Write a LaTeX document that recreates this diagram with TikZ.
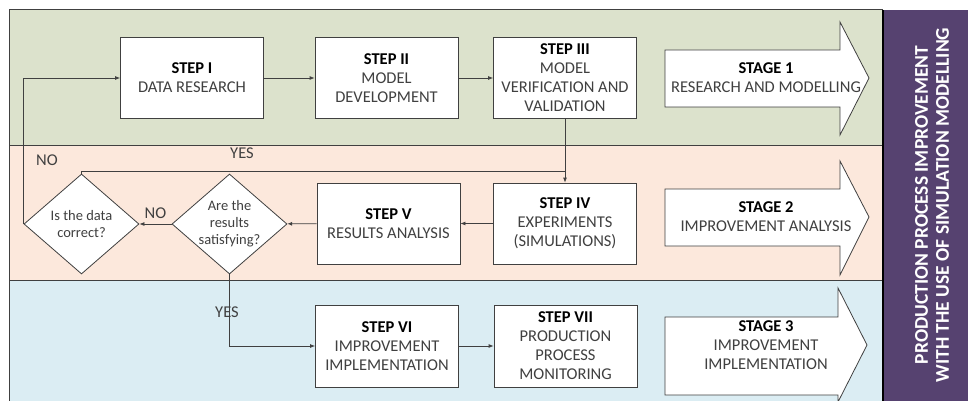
\documentclass[tikz,border=0pt]{standalone}
\usepackage{fontspec}
\setmainfont{Carlito}
\usetikzlibrary{arrows.meta,shapes.geometric}

\definecolor{researchgreen}{RGB}{220,226,204}
\definecolor{analysisrose}{RGB}{252,232,220}
\definecolor{implblue}{RGB}{219,237,243}
\definecolor{titlepurple}{RGB}{86,66,112}
\definecolor{inkgray}{RGB}{64,64,64}

\tikzset{
    stepbox/.style={draw=inkgray, fill=white, line width=0.8pt, minimum width=143pt, minimum height=81pt, inner sep=0pt, align=center, text=inkgray, font=\fontsize{16.5}{19}\selectfont},
    decision/.style={draw=inkgray, fill=white, diamond, line width=0.8pt, minimum width=115pt, minimum height=100pt, inner sep=0pt},
    qtext/.style={align=center, text=inkgray, font=\fontsize{14.5}{17}\selectfont},
    flow/.style={draw=inkgray, line width=0.8pt, -{Latex[length=5pt,width=4pt]}},
    answer/.style={text=inkgray, font=\fontsize{16.5}{19}\selectfont},
    stagearrow/.style={draw=inkgray, fill=white, line width=0.8pt},
    stagetext/.style={align=center, text=inkgray, font=\fontsize{16.5}{19}\selectfont}
}

\newcommand{\steptitle}[1]{{\bfseries\color{black}#1}}

\begin{document}
\begin{tikzpicture}[x=1pt, y=-1pt]
    \useasboundingbox (0,0) rectangle (968,401);

    % bands
    \fill[researchgreen] (9,10) rectangle (883,145);
    \fill[analysisrose] (9,145) rectangle (883,280);
    \fill[implblue] (9,280) rectangle (883,401);
    \draw[inkgray, line width=1pt] (9,401) -- (9,10) -- (883,10);
    \draw[inkgray, line width=1pt] (9,145) -- (883,145);
    \draw[inkgray, line width=1pt] (9,280) -- (883,280);
    \fill[titlepurple] (883,10) rectangle (968,401);
    \draw[black, line width=1.2pt] (883,10) -- (883,401);
    \node[rotate=90, align=center, text=white, font=\bfseries\fontsize{19.5}{21}\selectfont] (title) at (932,205) {PRODUCTION PROCESS IMPROVEMENT\\WITH THE USE OF SIMULATION MODELLING};

    % steps
    \node[stepbox] (step1) at (192,78) {\steptitle{STEP I}\\DATA RESEARCH};
    \node[stepbox] (step2) at (386.5,78) {\steptitle{STEP II}\\MODEL\\DEVELOPMENT};
    \node[stepbox] (step3) at (565,78) {\steptitle{STEP III}\\MODEL\\VERIFICATION AND\\VALIDATION};
    \node[stepbox] (step4) at (565,223.5) {\steptitle{STEP IV}\\EXPERIMENTS\\(SIMULATIONS)};
    \node[stepbox] (step5) at (388.5,223.5) {\steptitle{STEP V}\\RESULTS ANALYSIS};
    \node[stepbox, minimum height=82pt] (step6) at (387,346) {\steptitle{STEP VI}\\IMPROVEMENT\\IMPLEMENTATION};
    \node[stepbox, minimum height=82pt] (step7) at (565.5,346) {\steptitle{STEP VII}\\PRODUCTION\\PROCESS\\MONITORING};

    % decisions
    \node[decision] (ddata) at (81.5,224) {};
    \node[qtext] (ddatatext) at (ddata) {Is the data\\correct?};
    \node[decision] (dsat) at (229.5,224) {};
    \node[qtext] (dsattext) at (dsat) {Are the\\results\\satisfying?};

    % stages
    \draw[stagearrow] (665,50) -- (840,50) -- (840,22) -- (869,78) -- (840,135) -- (840,107) -- (665,107) -- cycle;
    \node[stagetext] (stage1) at (766,78) {\steptitle{STAGE 1}\\RESEARCH AND MODELLING};
    \draw[stagearrow] (665,189) -- (840,189) -- (840,161) -- (869,217) -- (840,275) -- (840,246) -- (665,246) -- cycle;
    \node[stagetext] (stage2) at (766,217) {\steptitle{STAGE 2}\\IMPROVEMENT ANALYSIS};
    \draw[stagearrow] (665,317) -- (838,317) -- (838,288) -- (867,345) -- (838,402) -- (838,395) -- (665,395) -- cycle;
    \node[stagetext] (stage3) at (766,345) {\steptitle{STAGE 3}\\IMPROVEMENT\\IMPLEMENTATION};

    % flow
    \draw[flow] (step1) -- (step2);
    \draw[flow] (step2) -- (step3);
    \draw[flow] (step3) -- (step4);
    \draw[flow] (step4) -- (step5);
    \draw[flow] (step5) -- (dsat);
    \draw[flow] (dsat) -- node[answer, above=2pt] (nomid) {NO} (ddata);
    \draw[flow] (ddata.west) -- (ddata.west |- step1.west) -- (step1.west);
    \node[answer] (noleft) at (47,160) {NO};
    \coordinate (yesjoin) at (565,171);
    \draw[draw=inkgray, line width=0.8pt] (ddata.north) |- (yesjoin);
    \node[answer] (yestop) at (242,153) {YES};
    \draw[flow] (dsat.south) |- (step6.west);
    \node[answer] (yesdown) at (227,312) {YES};
    \draw[flow] (step6) -- (step7);
\end{tikzpicture}
\end{document}
